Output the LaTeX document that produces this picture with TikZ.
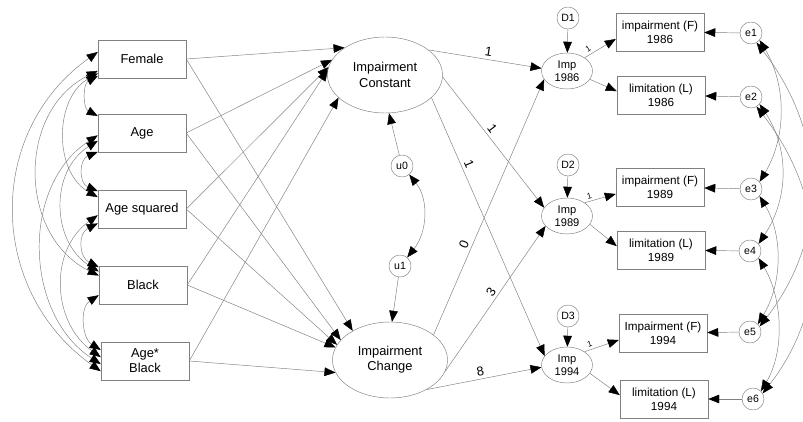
\documentclass[tikz,border=0pt]{standalone}
\usepackage{fontspec}
\setmainfont{Liberation Sans}
\usetikzlibrary{arrows.meta,shapes.geometric}
\definecolor{linegray}{gray}{0.5}

\begin{document}
\begin{tikzpicture}[x=0.3mm,y=-0.3mm,
  >={Triangle[length=3.3mm,width=2.6mm,color=black]},
  obsbox/.style={draw=linegray,rectangle,minimum width=26.4mm,minimum height=11.4mm,inner sep=0pt,align=center,font=\fontsize{11}{13}\selectfont},
  indbox/.style={obsbox,font=\fontsize{10}{12}\selectfont},
  latent/.style={draw=linegray,ellipse,minimum width=34.5mm,minimum height=22.8mm,inner sep=0pt,align=center,font=\fontsize{11}{13}\selectfont},
  impell/.style={draw=linegray,ellipse,minimum width=15.3mm,minimum height=10.8mm,inner sep=0pt,align=center,font=\fontsize{9.5}{11}\selectfont},
  errc/.style={draw=linegray,circle,minimum size=6.6mm,inner sep=0pt,font=\fontsize{9}{10}\selectfont},
  regpath/.style={draw=linegray,line width=0.4pt,->},
  covpath/.style={draw=linegray,line width=0.4pt,<->},
  coef/.style={font=\fontsize{11}{13}\selectfont,sloped,above,inner sep=2.5pt},
  smallcoef/.style={font=\fontsize{7}{8}\selectfont,sloped,above,inner sep=2pt}]

  % frame of the picture (pixel units)
  \clip (0,0) rectangle (803,422);

  % exogenous observed variables
  \node[obsbox] (fem)   at (142,59)  {Female};
  \node[obsbox] (age)   at (142,133) {Age};
  \node[obsbox] (agesq) at (142,209) {Age squared};
  \node[obsbox] (blk)   at (143,285) {Black};
  \node[obsbox] (agebl) at (145,361) {Age*\\Black};

  % growth factors and their residuals
  \node[latent] (const) at (385,75)  {Impairment\\Constant};
  \node[latent] (chg)   at (390,360) {Impairment\\Change};
  \node[errc] (u0) at (402,166) {u0};
  \node[errc] (u1) at (400,266) {u1};

  % impairment at each wave
  \node[impell] (imp86) at (567,71)  {Imp\\1986};
  \node[impell] (imp89) at (567,216) {Imp\\1989};
  \node[impell] (imp94) at (567,365) {Imp\\1994};
  \node[errc] (d1) at (568,18)  {D1};
  \node[errc] (d2) at (568,165) {D2};
  \node[errc] (d3) at (568,316) {D3};

  % indicators and their errors
  \node[indbox] (f86) at (660,32)  {impairment (F)\\1986};
  \node[indbox] (l86) at (661,95)  {limitation (L)\\1986};
  \node[indbox] (f89) at (660,187) {impairment (F)\\1989};
  \node[indbox] (l89) at (661,250) {limitation (L)\\1989};
  \node[indbox] (f94) at (663,333) {Impairment (F)\\1994};
  \node[indbox] (l94) at (664,399) {limitation (L)\\1994};
  \node[errc] (e1) at (751,33)  {e1};
  \node[errc] (e2) at (751,97)  {e2};
  \node[errc] (e3) at (751,189) {e3};
  \node[errc] (e4) at (750,251) {e4};
  \node[errc] (e5) at (750,332) {e5};
  \node[errc] (e6) at (753,399) {e6};

  % predictors -> growth factors
  \foreach \src/\a/\b in {fem/146/142,age/164/158,agesq/172/164,blk/175/167,agebl/206/193} {
    \draw[regpath] (\src.east) -- (const.\a);
    \draw[regpath] (\src.east) -- (chg.\b);
  }

  % growth factors -> impairment
  \draw[regpath] (const.30)  -- node[coef,pos=0.52] {1} (imp86.174);
  \draw[regpath] (const.-2)  -- node[coef,pos=0.43] {1} (imp89.160);
  \draw[regpath] (const.-26) -- node[coef,pos=0.27] {1} (imp94.158);
  \draw[regpath] (chg.30)  -- node[coef,pos=0.34] {0} (imp86.200);
  \draw[regpath] (chg.-12) -- node[coef,pos=0.52] {3} (imp89.205);
  \draw[regpath] (chg.-39) -- node[coef,pos=0.48] {8} (imp94.185);

  % residuals of the factors
  \draw[regpath] (u0) -- (const.-84);
  \draw[regpath] (u1) -- (chg.87);
  \draw[covpath] (u0.-50) .. controls +(20,25) and +(20,-25) .. (u1.50);

  % measurement part
  \foreach \d/\i in {d1/86,d2/89,d3/94} {
    \draw[regpath] (\d) -- (imp\i);
    \draw[regpath] (imp\i.37) -- node[smallcoef,pos=0.2] {1} (f\i.189);
    \draw[regpath] (imp\i.-20) -- (l\i.175);
  }
  \foreach \e/\b in {e1/f86,e2/l86,e3/f89,e4/l89,e5/f94,e6/l94}
    \draw[regpath] (\e) -- (\b);

  % covariances among predictors
  \draw[covpath] (fem.201) .. controls +(-15,8) and +(-15,-8) .. (age.159);
  \draw[covpath] (fem.198) .. controls +(-44,25) and +(-44,-25) .. (agesq.165);
  \draw[covpath] (fem.195) .. controls +(-81,40) and +(-81,-40) .. (blk.168);
  \draw[covpath] (fem.171) .. controls +(-113,80) and +(-113,-80) .. (agebl.193);
  \draw[covpath] (age.203) .. controls +(-19,8) and +(-19,-8) .. (agesq.158);
  \draw[covpath] (age.190) .. controls +(-48,30) and +(-48,-30) .. (blk.163);
  \draw[covpath] (age.183) .. controls +(-77,50) and +(-77,-50) .. (agebl.184);
  \draw[covpath] (agesq.198) .. controls +(-20,10) and +(-20,-10) .. (blk.158);
  \draw[covpath] (agesq.188) .. controls +(-49,35) and +(-49,-35) .. (agebl.175);
  \draw[covpath] (blk.193) .. controls +(-19,12) and +(-19,-12) .. (agebl.166);

  % covariances among errors
  \draw[covpath] (e1.-40) .. controls +(27,45) and +(27,-45) .. (e3.40);
  \draw[covpath] (e1.-60) .. controls +(70,90) and +(70,-90) .. (e5.30);
  \draw[covpath] (e2.-40) .. controls +(30,45) and +(30,-45) .. (e4.40);
  \draw[covpath] (e2.-60) .. controls +(70,90) and +(70,-90) .. (e6.30);
  \draw[covpath] (e3.-40) .. controls +(24,40) and +(24,-40) .. (e5.45);
  \draw[covpath] (e4.-40) .. controls +(24,40) and +(24,-40) .. (e6.45);

\end{tikzpicture}
\end{document}
